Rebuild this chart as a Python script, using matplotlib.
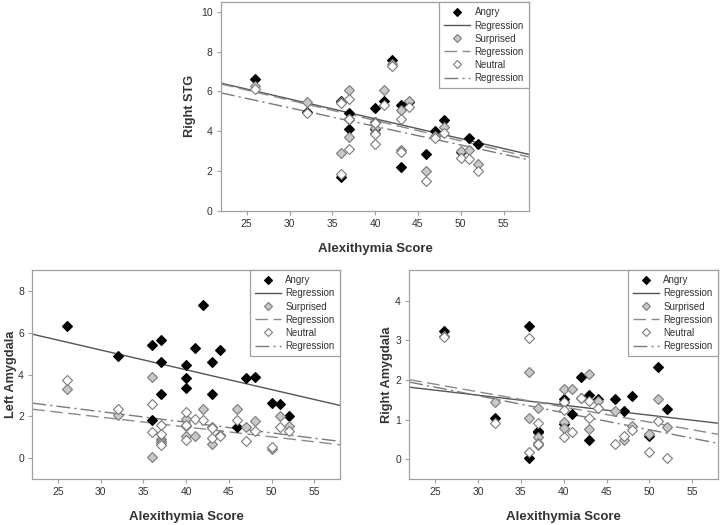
import matplotlib
matplotlib.use("Agg")
import matplotlib.pyplot as plt
import numpy as np
from matplotlib.lines import Line2D

plt.rcParams['font.family'] = ['Liberation Sans', 'DejaVu Sans']

# ---------------- data ----------------
scores = [26, 32, 36, 36, 37, 37, 37, 40, 40, 40, 41, 42, 43, 43, 44, 46, 47, 48, 50, 51, 52]

stg_angry = [6.65, 4.95, 5.50, 1.70, 4.93, 4.12, 4.60, 5.17, 4.45, 4.10, 5.50, 7.58, 5.30, 2.19, 5.45, 2.85, 4.02, 4.56, 2.95, 3.67, 3.37]
stg_surprised = [6.30, 5.47, 5.45, 2.90, 6.06, 3.70, 4.60, 4.45, 4.15, 3.90, 6.07, 7.40, 5.05, 3.06, 5.50, 2.00, 3.77, 4.22, 3.00, 3.07, 2.35]
stg_neutral = [6.15, 4.90, 5.40, 1.85, 5.60, 4.60, 3.08, 4.40, 3.85, 3.37, 5.30, 7.30, 4.62, 2.97, 5.20, 1.48, 3.68, 3.92, 2.67, 2.60, 2.02]

lamy_angry = [6.33, 4.89, 5.39, 1.82, 5.66, 4.62, 3.06, 4.45, 3.84, 3.36, 5.29, 7.33, 4.62, 3.06, 5.18, 1.47, 3.81, 3.90, 2.65, 2.58, 2.02]
lamy_surprised = [3.33, 2.07, 3.86, 0.05, 0.90, 0.80, 0.72, 1.88, 1.55, 1.04, 1.08, 2.33, 1.47, 0.67, 1.12, 2.33, 1.51, 1.78, 0.43, 2.02, 1.53]
lamy_neutral = [3.73, 2.36, 2.60, 1.24, 1.60, 1.15, 0.64, 2.20, 1.60, 0.88, 1.86, 1.84, 1.43, 0.96, 1.04, 1.80, 0.80, 1.32, 0.53, 1.48, 1.32]

ramy_angry = [3.25, 1.05, 3.37, 0.02, 0.72, 0.68, 0.70, 1.52, 1.45, 0.90, 1.13, 2.08, 1.63, 0.48, 1.51, 1.53, 1.23, 1.59, 0.59, 2.33, 1.26]
ramy_surprised = [3.12, 1.45, 2.20, 1.05, 1.30, 0.55, 0.35, 1.78, 0.93, 0.80, 1.78, 1.55, 2.15, 0.77, 1.48, 1.22, 0.49, 0.84, 0.63, 1.53, 0.81]
ramy_neutral = [3.08, 0.91, 3.06, 0.17, 0.92, 0.42, 0.38, 1.45, 1.25, 0.57, 0.69, 1.55, 1.47, 1.05, 1.30, 0.38, 0.59, 0.74, 0.19, 0.96, 0.03]

# regression line values at the axis ends (x = 22 and x = 58)
reg_x = [22, 58]
stg_reg = {'Angry': [6.42, 2.83], 'Surprised': [6.38, 2.70], 'Neutral': [5.93, 2.56]}
lamy_reg = {'Angry': [5.93, 2.52], 'Surprised': [2.34, 0.64], 'Neutral': [2.63, 0.80]}
ramy_reg = {'Angry': [1.82, 0.91], 'Surprised': [2.01, 0.63], 'Neutral': [1.95, 0.40]}

x_ticks = [25, 30, 35, 40, 45, 50, 55]

# ---------------- styles ----------------
mstyle = {
    'Angry': dict(mfc='black', mec='black'),
    'Surprised': dict(mfc='#c8c8c8', mec='#7a7a7a'),
    'Neutral': dict(mfc='white', mec='#7a7a7a'),
}
lstyle = {
    'Angry': dict(color='#555555', ls='-'),
    'Surprised': dict(color='#8a8a8a', ls=(0, (9, 4))),
    'Neutral': dict(color='#7a7a7a', ls=(0, (10, 3, 1.5, 3))),
}
spine_col = '#a0a0a0'
text_col = '#333333'

fig = plt.figure(figsize=(7.2, 5.25), dpi=100)

def panel(rect, ylabel, ylim, yticks, data, reg, ylab_x):
    ax = fig.add_axes(rect)
    for name in ['Angry', 'Surprised', 'Neutral']:
        ax.plot(scores, data[name], ls='none', marker='D', ms=4.8, mew=0.8,
                zorder=3, **mstyle[name])
    for name in ['Angry', 'Surprised', 'Neutral']:
        ax.plot(reg_x, reg[name], lw=1.0, zorder=2, **lstyle[name])
    ax.set_xlim(22, 58)
    ax.set_ylim(*ylim)
    ax.set_xticks(x_ticks)
    ax.set_yticks(yticks)
    for s in ax.spines.values():
        s.set_color(spine_col)
        s.set_linewidth(0.9)
    ax.tick_params(direction='out', length=3, width=0.8, color=spine_col,
                   labelsize=7.5, labelcolor=text_col, pad=3)
    ax.set_xlabel('Alexithymia Score', fontsize=9.5, fontweight='bold', color=text_col, labelpad=10)
    ax.set_ylabel(ylabel, fontsize=9.2, fontweight='bold', color=text_col)
    ax.yaxis.set_label_coords(ylab_x, 0.5)
    handles = []
    labels = []
    for name in ['Angry', 'Surprised', 'Neutral']:
        handles.append(Line2D([], [], ls='none', marker='D', ms=3.8, mew=0.8, **mstyle[name]))
        labels.append(name)
        handles.append(Line2D([], [], lw=1.0, **lstyle[name]))
        labels.append('Regression')
    leg = ax.legend(handles, labels, loc='upper right', borderaxespad=0, fontsize=7,
                    frameon=True, fancybox=False, edgecolor=spine_col, framealpha=1,
                    handlelength=2.6, handletextpad=0.5, labelspacing=0.32,
                    borderpad=0.55, labelcolor=text_col)
    leg.get_frame().set_linewidth(0.9)
    return ax

panel([0.307, 0.5987, 0.428, 0.3973], 'Right STG', (0, 10.5), [0, 2, 4, 6, 8, 10],
      {'Angry': stg_angry, 'Surprised': stg_surprised, 'Neutral': stg_neutral}, stg_reg, -0.081)
panel([0.0449, 0.0876, 0.4273, 0.3981], 'Left Amygdala', (-1, 9), [0, 2, 4, 6, 8],
      {'Angry': lamy_angry, 'Surprised': lamy_surprised, 'Neutral': lamy_neutral}, lamy_reg, -0.05)
panel([0.5685, 0.0876, 0.4287, 0.3981], 'Right Amygdala', (-0.5, 4.78), [0, 1, 2, 3, 4],
      {'Angry': ramy_angry, 'Surprised': ramy_surprised, 'Neutral': ramy_neutral}, ramy_reg, -0.053)

fig.savefig('out.png', dpi=100)
